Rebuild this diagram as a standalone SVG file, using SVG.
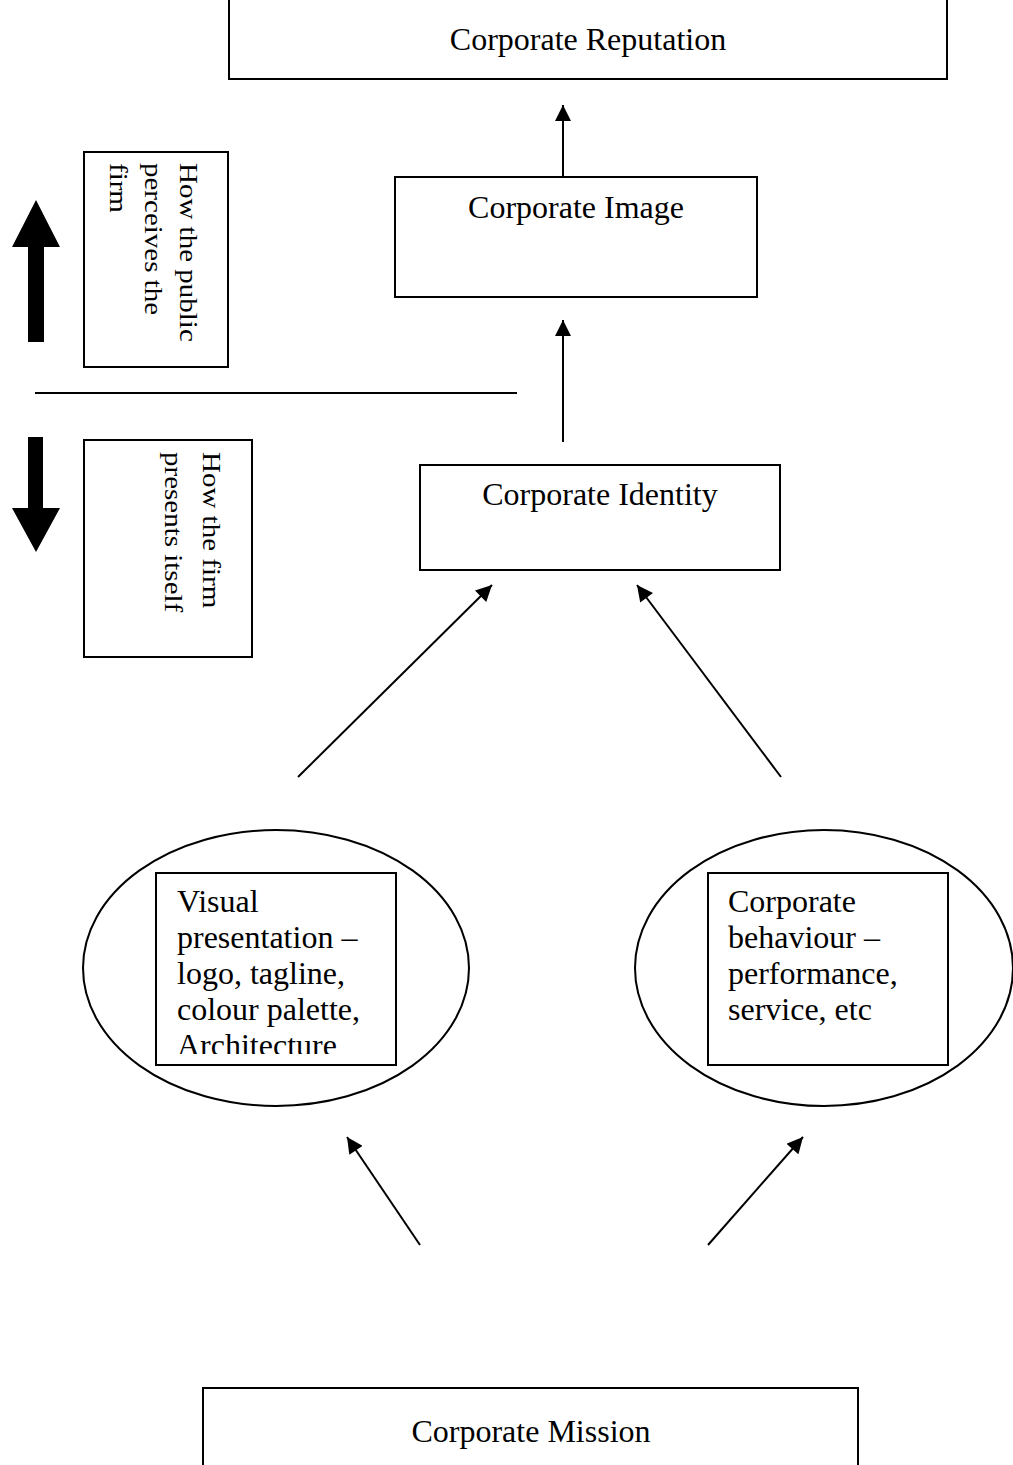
<svg xmlns="http://www.w3.org/2000/svg" width="1013" height="1465" viewBox="0 0 1013 1465">
  <style>
    .box { fill: #fff; stroke: #000; stroke-width: 2; }
    .oval { fill: #fff; stroke: #000; stroke-width: 2; }
    .lbl { font-family: "Liberation Serif", "Times New Roman", serif; font-size: 32px; fill: #000; }
    .mid { text-anchor: middle; }
    .side { font-family: "Liberation Serif", "Times New Roman", serif; font-size: 29px; fill: #000; }
    .edge { stroke: #000; stroke-width: 2; fill: none; marker-end: url(#head); }
    .rule { stroke: #000; stroke-width: 2; fill: none; }
    .block { fill: #000; }
  </style>
  <defs>
    <marker id="head" viewBox="0 0 10 10" refX="10" refY="5" markerWidth="17" markerHeight="16" markerUnits="userSpaceOnUse" orient="auto">
      <path d="M0,0 L10,5 L0,10 z" fill="#000"/>
    </marker>
    <clipPath id="visualClip">
      <rect x="157" y="874" width="238" height="180"/>
    </clipPath>
  </defs>
  <rect width="1013" height="1465" fill="#fff"/>

  <!-- side legend: perception above the line, presentation below -->
  <g id="legend">
    <polygon class="block" points="36,200 60,247 44,247 44,342 28,342 28,247 12,247"/>
    <polygon class="block" points="28,437 43,437 43,508 60,508 36,552 12,508 28,508"/>
    <line class="rule" x1="35" y1="393" x2="517" y2="393"/>
  </g>

  <g id="public-view">
    <rect class="box" x="84" y="152" width="144" height="215"/>
    <text class="side" transform="translate(180,163) rotate(90) scale(1,0.85)">How the public</text>
    <text class="side" transform="translate(145,163) rotate(90) scale(1,0.85)">perceives the</text>
    <text class="side" transform="translate(110,163) rotate(90) scale(1,0.85)">firm</text>
  </g>

  <g id="firm-view">
    <rect class="box" x="84" y="440" width="168" height="217"/>
    <text class="side" transform="translate(203,452) rotate(90) scale(1,0.85)">How the firm</text>
    <text class="side" transform="translate(165,452) rotate(90) scale(1,0.85)">presents itself</text>
  </g>

  <g id="reputation">
    <rect class="box" x="229" y="-1" width="718" height="80"/>
    <text class="lbl mid" x="588" y="50">Corporate Reputation</text>
  </g>

  <g id="image">
    <rect class="box" x="395" y="177" width="362" height="120"/>
    <text class="lbl mid" x="576" y="218">Corporate Image</text>
  </g>

  <g id="identity">
    <rect class="box" x="420" y="465" width="360" height="105"/>
    <text class="lbl mid" x="600" y="505">Corporate Identity</text>
  </g>

  <g id="visual">
    <ellipse class="oval" cx="276" cy="968" rx="193" ry="138"/>
    <rect class="box" x="156" y="873" width="240" height="192"/>
    <g clip-path="url(#visualClip)">
      <text class="lbl" x="177" y="912">Visual</text>
      <text class="lbl" x="177" y="948">presentation –</text>
      <text class="lbl" x="177" y="984">logo, tagline,</text>
      <text class="lbl" x="177" y="1020">colour palette,</text>
      <text class="lbl" x="177" y="1056">Architecture</text>
    </g>
  </g>

  <g id="behaviour">
    <ellipse class="oval" cx="824" cy="968" rx="189" ry="138"/>
    <rect class="box" x="708" y="873" width="240" height="192"/>
    <text class="lbl" x="728" y="912">Corporate</text>
    <text class="lbl" x="728" y="948">behaviour –</text>
    <text class="lbl" x="728" y="984">performance,</text>
    <text class="lbl" x="728" y="1020">service, etc</text>
  </g>

  <g id="mission">
    <rect class="box" x="203" y="1388" width="655" height="90"/>
    <text class="lbl mid" x="531" y="1442">Corporate Mission</text>
  </g>

  <g id="connectors">
    <line class="edge" x1="563" y1="177" x2="563" y2="105"/>
    <line class="edge" x1="563" y1="442" x2="563" y2="320"/>
    <line class="edge" x1="298" y1="777" x2="492" y2="585"/>
    <line class="edge" x1="781" y1="777" x2="637" y2="585"/>
    <line class="edge" x1="420" y1="1245" x2="347" y2="1137"/>
    <line class="edge" x1="708" y1="1245" x2="803" y2="1137"/>
  </g>
</svg>
